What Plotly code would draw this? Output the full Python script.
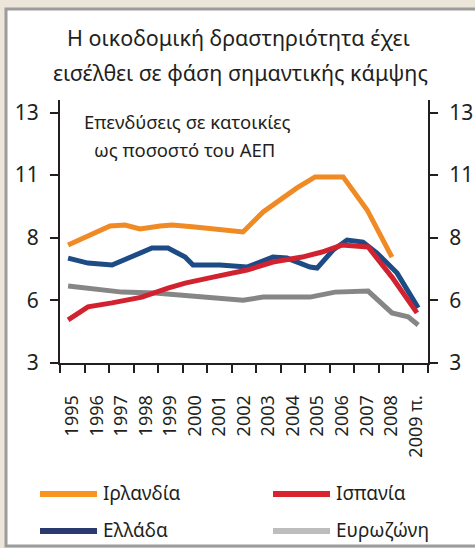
import plotly.graph_objects as go

# ---- data ----
ireland_x = [1994.83, 1995.72, 1996.54, 1997.15, 1997.76, 1998.58, 1999.07, 2000.0, 2000.82, 2001.96,
             2002.78, 2004.16, 2004.9, 2006.04, 2007.02, 2008.03]
ireland_y = [7.71, 8.11, 8.47, 8.51, 8.35, 8.47, 8.51, 8.43, 8.35, 8.23,
             9.03, 9.99, 10.43, 10.43, 9.11, 7.23]

spain_x = [1994.83, 1995.64, 1996.62, 1997.84, 1998.9, 1999.6, 2000.74, 2002.12, 2003.18, 2004.37,
           2005.18, 2005.99, 2007.06, 2008.03, 2009.05]
spain_y = [4.72, 5.24, 5.40, 5.63, 5.99, 6.19, 6.43, 6.71, 7.03, 7.23,
           7.43, 7.71, 7.63, 6.43, 5.00]

greece_x = [1994.83, 1995.64, 1996.62, 1997.44, 1998.25, 1998.9, 1999.6, 1999.92, 2001.02, 2002.12,
            2003.18, 2003.75, 2004.69, 2004.98, 2005.63, 2006.2, 2006.85, 2007.42, 2008.24, 2009.1]
greece_y = [7.19, 6.99, 6.91, 7.23, 7.59, 7.59, 7.23, 6.91, 6.91, 6.83,
            7.23, 7.19, 6.83, 6.79, 7.51, 7.91, 7.83, 7.39, 6.59, 5.20]

euro_x = [1994.83, 1995.64, 1997.03, 1998.37, 1999.6, 2000.74, 2001.96, 2002.78, 2004.69, 2005.71,
          2007.06, 2008.03, 2008.69, 2009.1]
euro_y = [6.07, 5.99, 5.83, 5.79, 5.71, 5.63, 5.51, 5.63, 5.63, 5.83,
          5.87, 5.00, 4.84, 4.52]

years = list(range(1995, 2010))
year_labels = [str(y) for y in years[:-1]] + ["2009 π."]
year_bounds = [y - 0.5 for y in range(1995, 2011)]

y_tickvals = [3, 5.5, 8, 10.5, 13]
y_ticktext = ["3", "6", "8", "11", "13"]

names = ["Ιρλανδία", "Ισπανία", "Ελλάδα", "Ευρωζώνη"]
line_colors = ["#f08a24", "#d2222f", "#1d4b85", "#868686"]
legend_colors = ["#f7951f", "#d9232e", "#2b3a6e", "#bdbdbd"]

FONT = "Noto Sans"
TXT = "#231f20"
W, H = 475, 548
L, R, T, B = 60, 47, 100, 185
PW, PH = W - L - R, H - T - B


def px2x(px):
    return (px - L) / PW


def py2y(py):
    return (H - B - py) / PH


fig = go.Figure()
series = [(euro_x, euro_y, 3), (greece_x, greece_y, 2), (spain_x, spain_y, 1), (ireland_x, ireland_y, 0)]
for xs, ys, i in series:
    fig.add_trace(go.Scatter(x=xs, y=ys, mode="lines", name=names[i],
                             line=dict(color=line_colors[i], width=5),
                             showlegend=False, hoverinfo="skip"))
# invisible trace to activate the right axis
fig.add_trace(go.Scatter(x=[1995], y=[3], yaxis="y2", mode="markers",
                         marker=dict(opacity=0), showlegend=False, hoverinfo="skip"))

shapes = [
    dict(type="rect", xref="paper", yref="paper", x0=px2x(6), x1=px2x(495),
         y0=py2y(546), y1=py2y(9), fillcolor="white",
         line=dict(color="#9c9c9c", width=3), layer="below"),
]
annotations = [
    dict(text="Η οικοδομική δραστηριότητα έχει", x=px2x(238), y=py2y(37), xref="paper", yref="paper",
         showarrow=False, font=dict(family=FONT, size=21.5, color=TXT), xanchor="center", yanchor="middle"),
    dict(text="εισέλθει σε φάση σημαντικής κάμψης", x=px2x(240), y=py2y(73), xref="paper", yref="paper",
         showarrow=False, font=dict(family=FONT, size=21.5, color=TXT), xanchor="center", yanchor="middle"),
    dict(text="Επενδύσεις σε κατοικίες", x=px2x(187), y=py2y(121), xref="paper", yref="paper",
         showarrow=False, font=dict(family=FONT, size=18.5, color=TXT), xanchor="center", yanchor="middle"),
    dict(text="ως ποσοστό του ΑΕΠ", x=px2x(184), y=py2y(149), xref="paper", yref="paper",
         showarrow=False, font=dict(family=FONT, size=18.5, color=TXT), xanchor="center", yanchor="middle"),
]

# manual legend
leg_pos = [(40, 494), (273, 494), (40, 531), (273, 531)]
leg_order = [0, 1, 2, 3]
for (lx, ly), i in zip(leg_pos, leg_order):
    shapes.append(dict(type="line", xref="paper", yref="paper", x0=px2x(lx), x1=px2x(lx + 57),
                       y0=py2y(ly), y1=py2y(ly), line=dict(color=legend_colors[i], width=6)))
    annotations.append(dict(text=names[i], x=px2x(lx + 61), y=py2y(ly - 1), xref="paper", yref="paper",
                            showarrow=False, xanchor="left", yanchor="middle",
                            font=dict(family=FONT, size=19, color=TXT)))

fig.update_layout(
    width=W, height=H,
    autosize=False,
    margin=dict(l=L, r=R, t=T, b=B, autoexpand=False),
    paper_bgcolor="#ece5d9",
    plot_bgcolor="rgba(0,0,0,0)",
    font=dict(family=FONT, color=TXT),
    shapes=shapes,
    annotations=annotations,
    xaxis=dict(range=[1994.5, 2009.5], tickmode="array", tickvals=years, ticktext=year_labels,
               tickangle=-90, ticks="", showgrid=False, zeroline=False, automargin=False,
               showline=True, linecolor=TXT, linewidth=2,
               tickfont=dict(family=FONT, size=18, color=TXT), ticklabelstandoff=23,
               minor=dict(tickmode="array", tickvals=year_bounds, ticks="outside",
                          ticklen=8, tickwidth=2, tickcolor=TXT, showgrid=False)),
    yaxis=dict(range=[3, 13.5], tickmode="array", tickvals=y_tickvals, ticktext=y_ticktext,
               ticks="outside", ticklen=8, tickwidth=2, tickcolor=TXT, automargin=False,
               showgrid=False, zeroline=False, showline=True, linecolor=TXT, linewidth=2,
               tickfont=dict(family=FONT, size=21, color=TXT), ticklabelstandoff=7),
    yaxis2=dict(range=[3, 13.5], overlaying="y", side="right", tickmode="array",
                tickvals=y_tickvals, ticktext=y_ticktext, automargin=False,
                ticks="outside", ticklen=8, tickwidth=2, tickcolor=TXT,
                showgrid=False, zeroline=False, showline=True, linecolor=TXT, linewidth=2,
                tickfont=dict(family=FONT, size=21, color=TXT), ticklabelstandoff=7),
)

fig.write_html("out.html", config={"displayModeBar": False},
               post_script="document.body.style.margin='0';document.body.style.overflow='hidden';")
